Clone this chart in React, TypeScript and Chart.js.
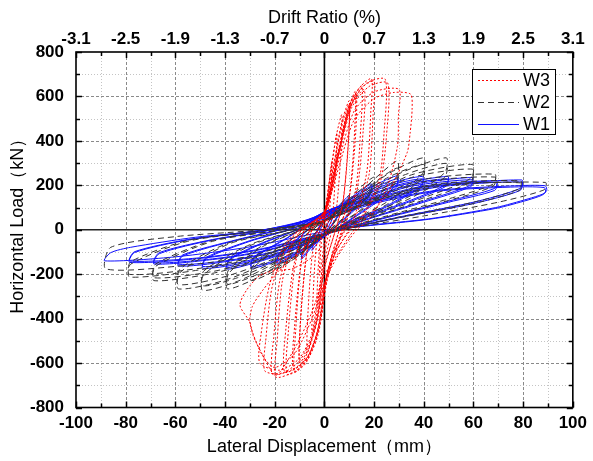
import React, { useEffect, useRef } from "react";
import { Chart, registerables } from "chart.js";

Chart.register(...registerables);

// ---------- data ----------
const DISP_RANGE = [-100, 100];
const LOAD_RANGE = [-800, 800];
const DRIFT_LABELS = ["-3.1", "-2.5", "-1.9", "-1.3", "-0.7", "0", "0.7", "1.3", "1.9", "2.5", "3.1"];
const SERIES_NAMES = ["W3", "W2", "W1"];

// W3: [displacement mm, load kN]
const W3_POINTS: number[][] = [
  [0, 0], [1, 100], [2, 185], [1.7, 115], [1, 30], [0.5, 0], [0, -60], [-1, -135], [-2, -205], [-1.7, -125], [-1, -30], [-0.5, 0],
  [0, 50], [1.5, 175], [3, 310], [2.7, 195], [1.8, 50], [1, 0], [0, -90], [-1.5, -225], [-3, -340], [-2.7, -215], [-1.8, -60], [-1, 0],
  [0, 60], [2.5, 250], [5, 435], [4.6, 290], [3.5, 90], [2, 0], [0, -110], [-2.5, -300], [-5, -465], [-4.6, -310], [-3.5, -100], [-2, 0],
  [0, 70], [3, 300], [5, 435], [7, 518], [6.6, 340], [5, 110], [3, 0], [0, -150], [-3, -370], [-5, -485], [-7, -555], [-6.6, -370], [-5, -120], [-3, 0],
  [0, 75], [4, 310], [7, 485], [10, 580], [9.6, 390], [7.5, 130], [4.5, 0], [0, -175], [-3, -410], [-6.5, -545], [-10, -610], [-9.6, -410], [-7.5, -140], [-5, 0],
  [0, 70], [4, 300], [7, 470], [10, 565], [9.6, 380], [7.5, 125], [4.5, 0], [0, -170], [-3, -400], [-6.5, -535], [-10, -598], [-9.6, -400], [-7.5, -135], [-5, 0],
  [0, 75], [5, 330], [9, 515], [12.4, 622], [12, 410], [10, 150], [6, 0], [1, -205], [-2, -430], [-6.5, -578], [-12, -640], [-11.5, -445], [-9.5, -165], [-6, 0],
  [0, 72], [5, 320], [9, 505], [12.8, 603], [12.4, 400], [10, 145], [6, 0], [1, -200], [-2, -420], [-6.5, -568], [-12.5, -625], [-12, -435], [-9.5, -160], [-6, 0],
  [0, 80], [5.9, 360], [9.8, 555], [15, 647], [14.6, 455], [12.5, 175], [7, 0], [1, -235], [-2.6, -475], [-8, -608], [-15, -650], [-14.5, -455], [-12, -175], [-8, 0],
  [0, 78], [5.9, 345], [10, 545], [16, 630], [15.6, 445], [13, 170], [7.5, 0], [1, -225], [-2.6, -460], [-8, -595], [-16, -640], [-15.5, -445], [-12.5, -170], [-8, 0],
  [0, 82], [6, 370], [10, 562], [15, 650], [19, 680], [18.7, 535], [17, 255], [12, 60], [8, 0], [3, -125], [0, -270], [-3, -475], [-7, -582], [-12, -638], [-19.6, -662], [-19, -495], [-17, -235], [-13, -70], [-9, 0],
  [0, 80], [6, 355], [10, 548], [15, 640], [20, 668], [19.6, 520], [18, 250], [12.5, 58], [8.5, 0], [3, -120], [0, -260], [-3, -465], [-7, -575], [-13, -630], [-21, -650], [-20.4, -485], [-18, -230], [-13.5, -68], [-9, 0],
  [0, 85], [6, 360], [11, 565], [17, 660], [24.5, 677], [24, 435], [22, 225], [15, 60], [10, 0], [4, -115], [0, -250], [-4, -455], [-10, -590], [-17, -645], [-24, -635], [-23.5, -485], [-21, -255], [-15, -70], [-10, 0],
  [0, 80], [6, 345], [11, 550], [18, 645], [25.5, 660], [25, 425], [22.5, 215], [15.5, 58], [10.5, 0], [4, -110], [0, -240], [-4, -440], [-10, -578], [-18, -632], [-26, -600], [-25.5, -470], [-22, -245], [-16, -68], [-10, 0],
  [0, 72], [6, 320], [12, 535], [20, 620], [30, 632], [29.8, 515], [29.4, 375], [25, 185], [17.6, 41], [13, 0], [5, -125], [0, -240], [-5, -400], [-12, -558], [-20, -620], [-25, -565], [-30, -420], [-29, -345], [-25, -275], [-18, -180], [-10, -100], [-4, -30],
  [0, 60], [6, 290], [12, 495], [20, 590], [28, 618], [34.7, 610], [35.3, 542], [34.5, 435], [33.3, 347], [25, 155], [17.6, 63], [12, 0], [5, -115], [0, -205], [-5, -370], [-12, -535], [-19.6, -655], [-24.8, -565], [-28.7, -476], [-30, -416], [-34, -340], [-31.4, -273], [-26, -206], [-19.6, -183], [-13, -176], [-5, -124], [0, -62],
];

const W2_POINTS: number[][] = [
  [0, 0],
  [5, 93], [10, 155], [9.5, 124], [5, 52], [0, -20], [-5, -67], [-10, -103], [-9.5, -77], [-4, -20], [0, 36],
  [5, 88], [10, 140], [9.5, 113], [5, 46], [0, -20], [-5, -62], [-10, -95], [-9.5, -72], [-4, -18], [0, 36],
  [8, 113], [14, 186], [20, 237], [19.5, 190], [10, 77], [0, -20], [-8, -98], [-14, -144], [-20, -175], [-19.5, -134], [-10, -46], [0, 41],
  [8, 108], [14, 175], [20, 216], [19.5, 175], [10, 72], [0, -20], [-8, -93], [-14, -134], [-20, -160], [-19.5, -124], [-10, -43], [0, 41],
  [10, 124], [20, 227], [29.4, 310], [29, 237], [15, 93], [0, -20], [-10, -113], [-20, -185], [-29.4, -229], [-29, -175], [-15, -57], [0, 41],
  [10, 118], [20, 211], [29.4, 278], [29, 216], [15, 88], [0, -20], [-10, -108], [-20, -175], [-29.4, -211], [-29, -165], [-15, -54], [0, 41],
  [12, 134], [25, 247], [39.9, 324], [39.5, 252], [25, 124], [10, 36], [0, -20], [-15, -134], [-28, -221], [-39, -266], [-38.5, -196], [-25, -77], [-10, -5], [0, 41],
  [12, 129], [25, 232], [39.9, 294], [39.5, 232], [25, 113], [10, 33], [0, -20], [-15, -129], [-28, -206], [-39, -245], [-38.5, -180], [-25, -72], [-10, -4], [0, 41],
  [12, 129], [30, 252], [49, 324], [48.5, 258], [35, 155], [15, 52], [0, -20], [-18, -139], [-35, -232], [-49, -273], [-48.5, -201], [-30, -72], [-12, -5], [0, 41],
  [12, 124], [30, 237], [49, 299], [48.5, 237], [35, 144], [15, 48], [0, -20], [-18, -134], [-35, -216], [-49, -252], [-48.5, -185], [-30, -67], [-12, -4], [0, 41],
  [15, 134], [35, 247], [59.5, 294], [59, 232], [40, 144], [18, 57], [0, -20], [-20, -134], [-40, -227], [-58.8, -266], [-58, -191], [-38, -62], [-15, -5], [0, 41],
  [15, 129], [35, 235], [59.5, 273], [59, 216], [40, 134], [18, 52], [0, -20], [-20, -129], [-40, -211], [-58.8, -247], [-58, -175], [-38, -57], [-15, -4], [0, 41],
  [18, 134], [40, 227], [68.6, 250], [68, 206], [50, 139], [25, 62], [0, -20], [-25, -134], [-45, -196], [-68.6, -229], [-68, -165], [-45, -52], [-20, -5], [0, 41],
  [18, 129], [40, 216], [68.6, 237], [68, 196], [50, 132], [25, 58], [0, -20], [-25, -129], [-45, -188], [-68.6, -216], [-68, -155], [-45, -48], [-20, -4], [0, 41],
  [20, 134], [45, 206], [79, 220], [78.5, 185], [60, 124], [30, 57], [0, -20], [-25, -118], [-50, -180], [-78.4, -213], [-78, -155], [-55, -52], [-25, -5], [0, 41],
  [20, 129], [45, 201], [79, 211], [78.5, 177], [60, 118], [30, 54], [0, -20], [-25, -113], [-50, -173], [-78.4, -201], [-78, -144], [-55, -48], [-25, -4], [0, 41],
  [20, 129], [50, 201], [89, 213], [88.5, 180], [70, 124], [40, 62], [0, -15], [-30, -118], [-60, -165], [-88, -176], [-86, -79], [-60, -31], [-30, -5], [0, 31],
];

const W1_POINTS: number[][] = [
  [0, 0],
  [3, 62], [5, 103], [4.5, 82], [2, 21], [0, -21], [-3, -62], [-5, -93], [-4.5, -72], [-2, -10], [0, 40],
  [5, 98], [10, 155], [9.5, 129], [5, 57], [0, -25], [-5, -77], [-9.2, -133], [-8.7, -103], [-4, -25], [0, 50],
  [5, 93], [10, 144], [9.5, 118], [5, 52], [0, -25], [-5, -72], [-9.2, -124], [-8.7, -98], [-4, -24], [0, 50],
  [7, 112], [14, 172], [19, 206], [18.5, 170], [10, 72], [0, -30], [-8, -92], [-14, -129], [-19, -154], [-18.5, -118], [-10, -35], [0, 65],
  [7, 108], [14, 165], [19, 196], [18.5, 160], [10, 67], [0, -30], [-8, -86], [-14, -124], [-19, -146], [-18.5, -113], [-10, -33], [0, 65],
  [10, 132], [20, 198], [29.4, 243], [29, 201], [15, 82], [0, -30], [-10, -98], [-20, -144], [-29.4, -173], [-28.5, -129], [-15, -38], [0, 75],
  [10, 126], [20, 188], [29.4, 229], [29, 191], [15, 77], [0, -30], [-10, -93], [-20, -139], [-29.4, -165], [-28.5, -124], [-15, -36], [0, 75],
  [10, 126], [25, 203], [39.5, 240], [39, 201], [25, 108], [10, 36], [0, -28], [-15, -102], [-28, -149], [-39.2, -177], [-38, -134], [-25, -62], [-10, 5], [0, 80],
  [10, 121], [25, 196], [39.5, 229], [39, 194], [25, 103], [10, 33], [0, -28], [-15, -99], [-28, -144], [-39.2, -169], [-38, -129], [-25, -59], [-10, 6], [0, 80],
  [12, 130], [30, 203], [49.7, 240], [49, 204], [35, 134], [15, 52], [0, -25], [-18, -106], [-35, -155], [-49, -173], [-47.5, -129], [-30, -52], [-12, 8], [0, 80],
  [12, 124], [30, 198], [49.7, 229], [49, 196], [35, 129], [15, 48], [0, -25], [-18, -102], [-35, -149], [-49, -165], [-47.5, -124], [-30, -49], [-12, 9], [0, 78],
  [15, 133], [35, 202], [59.5, 235], [59, 201], [40, 129], [18, 52], [0, -22], [-20, -100], [-40, -144], [-58.8, -163], [-57, -118], [-35, -46], [-15, 8], [0, 75],
  [15, 128], [35, 196], [59.5, 225], [59, 194], [40, 124], [18, 49], [0, -22], [-20, -97], [-40, -140], [-58.8, -155], [-57, -113], [-35, -44], [-15, 9], [0, 72],
  [15, 126], [40, 197], [69.3, 220], [68.5, 186], [50, 129], [25, 57], [0, -20], [-25, -99], [-45, -134], [-68.6, -154], [-66.5, -108], [-45, -46], [-20, 2], [0, 70],
  [15, 121], [40, 192], [69.3, 212], [68.5, 177], [50, 124], [25, 54], [0, -20], [-25, -96], [-45, -131], [-68.6, -148], [-66.5, -103], [-45, -44], [-20, 3], [0, 66],
  [18, 124], [45, 196], [79.5, 224], [78.8, 186], [60, 124], [30, 57], [0, -18], [-25, -88], [-50, -129], [-78.4, -147], [-76.5, -103], [-55, -46], [-25, -2], [0, 62],
  [18, 118], [45, 191], [79.5, 215], [78.8, 177], [60, 118], [30, 54], [0, -16], [-25, -85], [-50, -126], [-78.4, -141], [-76.5, -99], [-55, -44], [-25, -1], [0, 56],
  [20, 124], [45, 177], [75, 197], [88.9, 198], [89.5, 176], [88, 161], [82, 139], [69, 100], [42, 49], [16, 18], [0, -8], [-30, -77], [-60, -122], [-88.5, -140], [-86, -103], [-78, -79], [-52, -34], [-25, -4], [0, 48],
  [20, 118], [45, 173], [75, 192], [88.5, 190], [89, 170], [87.5, 155], [82, 134], [69, 96], [42, 47], [16, 16], [0, -5],
];

// ---------- styling ----------
const FONT = "'Liberation Sans', Arial, sans-serif";
const COLORS = { W3: "#ff0000", W2: "#333333", W1: "#1010ff" };
const DASHES: Record<string, number[]> = { W3: [2, 2], W2: [6, 4], W1: [] };

const toXY = (pts: number[][]) => pts.map((p) => ({ x: p[0], y: p[1] }));

const decorPlugin = {
  id: "decor",
  beforeDatasetsDraw(chart: any) {
    const { ctx, chartArea: a, scales } = chart;
    const x = scales.x, y = scales.y;
    ctx.save();
    ctx.lineWidth = 1;
    ctx.strokeStyle = "#c4c4c4";
    ctx.setLineDash([1, 2]);
    for (let v = DISP_RANGE[0] + 10; v < DISP_RANGE[1]; v += 20) {
      const px = Math.round(x.getPixelForValue(v)) + 0.5;
      ctx.beginPath(); ctx.moveTo(px, a.top); ctx.lineTo(px, a.bottom); ctx.stroke();
    }
    for (let v = LOAD_RANGE[0] + 100; v < LOAD_RANGE[1]; v += 200) {
      const py = Math.round(y.getPixelForValue(v)) + 0.5;
      ctx.beginPath(); ctx.moveTo(a.left, py); ctx.lineTo(a.right, py); ctx.stroke();
    }
    ctx.strokeStyle = "#8a8a8a";
    ctx.setLineDash([3, 2]);
    for (let v = DISP_RANGE[0] + 20; v < DISP_RANGE[1]; v += 20) {
      if (v === 0) continue;
      const px = Math.round(x.getPixelForValue(v)) + 0.5;
      ctx.beginPath(); ctx.moveTo(px, a.top); ctx.lineTo(px, a.bottom); ctx.stroke();
    }
    for (let v = LOAD_RANGE[0] + 200; v < LOAD_RANGE[1]; v += 200) {
      if (v === 0) continue;
      const py = Math.round(y.getPixelForValue(v)) + 0.5;
      ctx.beginPath(); ctx.moveTo(a.left, py); ctx.lineTo(a.right, py); ctx.stroke();
    }
    ctx.setLineDash([]);
    ctx.strokeStyle = "#000";
    ctx.lineWidth = 1.6;
    const x0 = x.getPixelForValue(0), y0 = y.getPixelForValue(0);
    ctx.beginPath(); ctx.moveTo(x0, a.top); ctx.lineTo(x0, a.bottom); ctx.stroke();
    ctx.strokeStyle = "#222";
    ctx.beginPath(); ctx.moveTo(a.left, y0); ctx.lineTo(a.right, y0); ctx.stroke();
    ctx.restore();
  },
  afterDatasetsDraw(chart: any) {
    const { ctx, chartArea: a, scales } = chart;
    const x = scales.x, y = scales.y;
    ctx.save();
    ctx.setLineDash([]);
    ctx.strokeStyle = "#000";
    ctx.lineWidth = 1.5;
    for (let v = DISP_RANGE[0]; v <= DISP_RANGE[1]; v += 10) {
      const len = v % 20 === 0 ? 6 : 4;
      const px = Math.round(x.getPixelForValue(v)) + 0.5;
      ctx.beginPath(); ctx.moveTo(px, a.bottom); ctx.lineTo(px, a.bottom - len); ctx.stroke();
      ctx.beginPath(); ctx.moveTo(px, a.top); ctx.lineTo(px, a.top + len); ctx.stroke();
    }
    for (let v = LOAD_RANGE[0]; v <= LOAD_RANGE[1]; v += 100) {
      const len = v % 200 === 0 ? 6 : 4;
      const py = Math.round(y.getPixelForValue(v)) + 0.5;
      ctx.beginPath(); ctx.moveTo(a.left, py); ctx.lineTo(a.left + len, py); ctx.stroke();
      ctx.beginPath(); ctx.moveTo(a.right, py); ctx.lineTo(a.right - len, py); ctx.stroke();
    }
    ctx.lineWidth = 1.6;
    ctx.strokeRect(a.left, a.top, a.right - a.left, a.bottom - a.top);

    // legend
    const lx = 472, ly = 69, lw = 83, lh = 65;
    ctx.fillStyle = "#fff";
    ctx.fillRect(lx, ly, lw, lh);
    ctx.lineWidth = 1;
    ctx.strokeStyle = "#000";
    ctx.strokeRect(lx + 0.5, ly + 0.5, lw, lh);
    ctx.font = `18px ${FONT}`;
    ctx.textBaseline = "middle";
    ctx.textAlign = "left";
    SERIES_NAMES.forEach((name, i) => {
      const yy = ly + 11.5 + i * 22;
      ctx.strokeStyle = (COLORS as any)[name];
      ctx.lineWidth = 1;
      ctx.setLineDash(DASHES[name]);
      ctx.beginPath(); ctx.moveTo(lx + 6, yy); ctx.lineTo(lx + 47, yy); ctx.stroke();
      ctx.setLineDash([]);
      ctx.fillStyle = "#000";
      ctx.fillText(name, lx + 51, yy + 1);
    });
    ctx.restore();
  },
  afterDraw(chart: any) {
    const { ctx, chartArea: a } = chart;
    const cx = (a.left + a.right) / 2;
    ctx.save();
    ctx.fillStyle = "#000";
    ctx.font = `18px ${FONT}`;
    ctx.textAlign = "center";
    ctx.textBaseline = "middle";
    ctx.fillText("Drift Ratio (%)", cx, 18);
    ctx.fillText("Lateral Displacement（mm）", cx, 447);
    ctx.translate(18, (a.top + a.bottom) / 2 - 8);
    ctx.rotate(-Math.PI / 2);
    ctx.fillText("Horizontal Load（kN）", 0, 0);
    ctx.restore();
  },
};

export default function App() {
  const ref = useRef<HTMLCanvasElement | null>(null);
  useEffect(() => {
    document.body.style.margin = "0";
    const canvas = ref.current;
    if (!canvas) return;
    const tickFont = { family: FONT, size: 17, weight: "bold" as const };
    const mk = (name: string, pts: number[][]) => ({
      label: name,
      data: toXY(pts),
      showLine: true,
      borderColor: (COLORS as any)[name],
      backgroundColor: (COLORS as any)[name],
      borderWidth: 1,
      borderDash: DASHES[name],
      pointRadius: 0,
      pointHoverRadius: 0,
      tension: 0.25,
      fill: false,
    });
    const chart = new Chart(canvas, {
      type: "scatter",
      data: {
        datasets: [mk("W3", W3_POINTS), mk("W2", W2_POINTS), mk("W1", W1_POINTS)],
      },
      options: {
        animation: false,
        responsive: false,
        devicePixelRatio: 1,
        layout: { padding: { left: 0, right: 16, top: 0, bottom: 0 } },
        plugins: { legend: { display: false }, tooltip: { enabled: false } },
        events: [],
        scales: {
          x: {
            type: "linear",
            position: "bottom",
            min: DISP_RANGE[0],
            max: DISP_RANGE[1],
            grid: { display: false, drawTicks: false },
            border: { display: false },
            ticks: { stepSize: 20, font: tickFont, color: "#000", padding: 6, maxRotation: 0, autoSkip: false },
            afterFit: (s: any) => { s.height = 53.5; },
          },
          x2: {
            type: "linear",
            axis: "x",
            position: "top",
            min: DISP_RANGE[0],
            max: DISP_RANGE[1],
            grid: { display: false, drawTicks: false },
            border: { display: false },
            ticks: {
              stepSize: 20,
              font: tickFont,
              color: "#000",
              padding: 2,
              maxRotation: 0,
              autoSkip: false,
              callback: (_v: any, i: number) => DRIFT_LABELS[i],
            },
            afterFit: (s: any) => { s.height = 52; },
          },
          y: {
            type: "linear",
            min: LOAD_RANGE[0],
            max: LOAD_RANGE[1],
            grid: { display: false, drawTicks: false },
            border: { display: false },
            ticks: { stepSize: 200, font: tickFont, color: "#000", padding: 12, autoSkip: false },
            afterFit: (s: any) => { s.width = 76; },
          },
        },
      } as any,
      plugins: [decorPlugin],
    });
    return () => chart.destroy();
  }, []);
  return <canvas ref={ref} width={593} height={461} style={{ display: "block" }} />;
}
